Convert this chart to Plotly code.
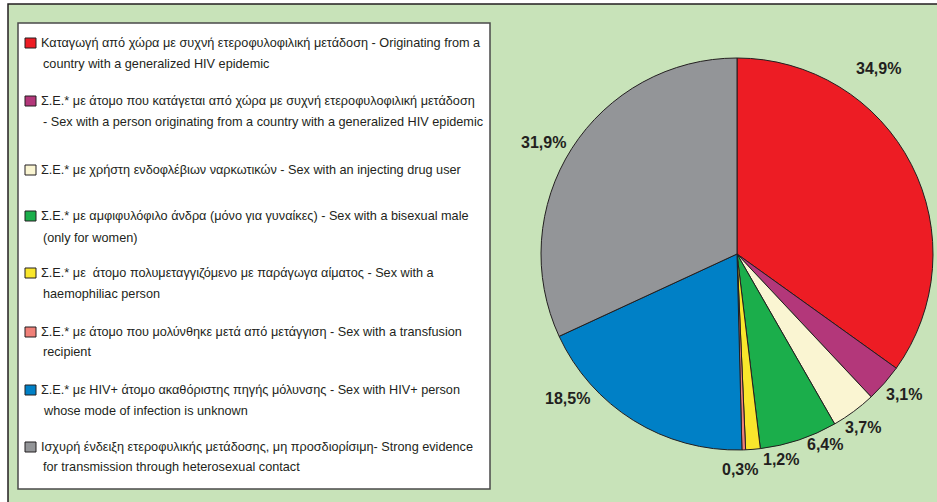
import plotly.graph_objects as go

W, H = 937, 502

# ---- data ----
categories = [
    "Καταγωγή από χώρα με συχνή ετεροφυλοφιλική μετάδοση - Originating from a country with a generalized HIV epidemic",
    "Σ.Ε.* με άτομο που κατάγεται από χώρα με συχνή ετεροφυλοφιλική μετάδοση - Sex with a person originating from a country with a generalized HIV epidemic",
    "Σ.Ε.* με χρήστη ενδοφλέβιων ναρκωτικών - Sex with an injecting drug user",
    "Σ.Ε.* με αμφιφυλόφιλο άνδρα (μόνο για γυναίκες) - Sex with a bisexual male (only for women)",
    "Σ.Ε.* με  άτομο πολυμεταγγιζόμενο με παράγωγα αίματος - Sex with a haemophiliac person",
    "Σ.Ε.* με άτομο που μολύνθηκε μετά από μετάγγιση - Sex with a transfusion recipient",
    "Σ.Ε.* με HIV+ άτομο ακαθόριστης πηγής μόλυνσης - Sex with HIV+ person whose mode of infection is unknown",
    "Ισχυρή ένδειξη ετεροφυλικής μετάδοσης, μη προσδιορίσιμη- Strong evidence for transmission through heterosexual contact",
]
legend_lines = [
    ["Καταγωγή από χώρα με συχνή ετεροφυλοφιλική μετάδοση - Originating from a",
     "country with a generalized HIV epidemic"],
    ["Σ.Ε.* με άτομο που κατάγεται από χώρα με συχνή ετεροφυλοφιλική μετάδοση",
     "- Sex with a person originating from a country with a generalized HIV epidemic"],
    ["Σ.Ε.* με χρήστη ενδοφλέβιων ναρκωτικών - Sex with an injecting drug user"],
    ["Σ.Ε.* με αμφιφυλόφιλο άνδρα (μόνο για γυναίκες) - Sex with a bisexual male",
     "(only for women)"],
    ["Σ.Ε.* με  άτομο πολυμεταγγιζόμενο με παράγωγα αίματος - Sex with a",
     "haemophiliac person"],
    ["Σ.Ε.* με άτομο που μολύνθηκε μετά από μετάγγιση - Sex with a transfusion",
     "recipient"],
    ["Σ.Ε.* με HIV+ άτομο ακαθόριστης πηγής μόλυνσης - Sex with HIV+ person",
     "whose mode of infection is unknown"],
    ["Ισχυρή ένδειξη ετεροφυλικής μετάδοσης, μη προσδιορίσιμη- Strong evidence",
     "for transmission through heterosexual contact"],
]
values = [34.9, 3.1, 3.7, 6.4, 1.2, 0.3, 18.5, 31.9]
value_labels = ["34,9%", "3,1%", "3,7%", "6,4%", "1,2%", "0,3%", "18,5%", "31,9%"]

# ---- styles / layout positions (pixels) ----
colors = ["#ED1C24", "#B3377A", "#FAF5D2", "#1BAE4B", "#F9E62C", "#F08078", "#0080C6", "#939598"]
label_px = [(878, 68), (904, 394), (863, 427), (825, 444), (781, 459), (740, 469), (567, 398), (543, 143)]
legend_line_y = [[43, 64], [101, 122], [170], [216, 238], [273, 294], [332, 352], [390, 411], [447, 467]]
TXT = "#231F20"
FONT = "Liberation Sans, Arial, sans-serif"

def px(x):
    return x / W

def py(y):
    return 1 - y / H

cx, cy, r = 737, 254, 196

fig = go.Figure(go.Pie(
    labels=categories,
    values=values,
    sort=False,
    direction="clockwise",
    rotation=0,
    marker=dict(colors=colors, line=dict(color=TXT, width=1)),
    textinfo="none",
    showlegend=False,
    hoverinfo="label+percent",
    domain=dict(x=[px(cx - r), px(cx + r)], y=[py(cy + r), py(cy - r)]),
))

shapes = [
    # green background panel
    dict(type="rect", xref="paper", yref="paper", x0=px(8), x1=px(945), y0=py(510), y1=py(4),
         fillcolor="#C8E3B9", line=dict(color="#231F20", width=1.5), layer="below"),
    # legend box
    dict(type="rect", xref="paper", yref="paper", x0=px(18), x1=px(490), y0=py(489), y1=py(23),
         fillcolor="white", line=dict(color="#4A4A4A", width=1.5), layer="below"),
]
annotations = []
for i, lines in enumerate(legend_lines):
    ys = legend_line_y[i]
    shapes.append(dict(type="rect", xref="paper", yref="paper",
                       x0=px(25), x1=px(36), y0=py(ys[0] + 5), y1=py(ys[0] - 5),
                       fillcolor=colors[i], line=dict(color=TXT, width=1)))
    for j, (t, y) in enumerate(zip(lines, ys)):
        annotations.append(dict(xref="paper", yref="paper", x=px(39 if j == 0 else 41), y=py(y),
                                text=t, showarrow=False, xanchor="left", yanchor="middle",
                                font=dict(family=FONT, size=12.7, color=TXT)))

for lab, (x, y) in zip(value_labels, label_px):
    annotations.append(dict(xref="paper", yref="paper", x=px(x), y=py(y), text="<b>" + lab + "</b>",
                            showarrow=False, xanchor="center", yanchor="middle",
                            font=dict(family=FONT, size=16, color=TXT)))

fig.update_layout(
    width=W, height=H,
    margin=dict(l=0, r=0, t=0, b=0),
    paper_bgcolor="white",
    plot_bgcolor="white",
    shapes=shapes,
    annotations=annotations,
)

fig.write_html("out.html", config={"displayModeBar": False},
               post_script="document.body.style.margin='0';document.body.style.overflow='hidden';")
